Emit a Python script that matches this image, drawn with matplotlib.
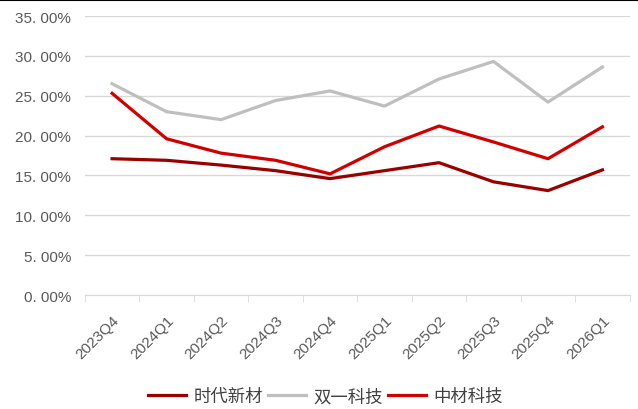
import matplotlib.pyplot as plt
import numpy as np
from matplotlib.lines import Line2D
from matplotlib.ticker import FuncFormatter

plt.rcParams['font.family'] = ['Liberation Sans', 'Noto Sans CJK SC', 'DejaVu Sans']

quarters = ['2023Q4', '2024Q1', '2024Q2', '2024Q3', '2024Q4',
            '2025Q1', '2025Q2', '2025Q3', '2025Q4', '2026Q1']
sdxc = [17.1, 16.9, 16.3, 15.6, 14.6, 15.6, 16.6, 14.2, 13.1, 15.7]   # 时代新材
syjk = [26.5, 23.0, 22.0, 24.4, 25.6, 23.7, 27.1, 29.3, 24.2, 28.6]   # 双一科技
zcjk = [25.3, 19.6, 17.8, 16.9, 15.2, 18.6, 21.2, 19.2, 17.1, 21.1]   # 中材科技

fig = plt.figure(figsize=(6.38, 4.10), dpi=100)
ax = fig.add_axes([0.133, 0.278, 0.854, 0.6805])

x = np.arange(len(quarters))
ax.plot(x, np.array(sdxc) / 100, color='#990000', lw=2.3, label='时代新材')
ax.plot(x, np.array(syjk) / 100, color='#BFBFBF', lw=2.3, label='双一科技')
ax.plot(x, np.array(zcjk) / 100, color='#D00000', lw=2.3, label='中材科技')

ax.set_xlim(-0.5, len(quarters) - 0.5)
ax.set_ylim(0, 0.35)
ax.set_yticks(np.arange(0, 0.351, 0.05))
ax.yaxis.set_major_formatter(FuncFormatter(lambda v, p: ('%.2f%%' % (v * 100)).replace('.', '. ')))
ax.grid(axis='y', color='#D9D9D9', lw=1)
ax.set_axisbelow(True)

ax.set_xticks(x)
ax.set_xticklabels(quarters, rotation=45, ha='right', rotation_mode='anchor')
ax.set_xticks(np.arange(-0.5, len(quarters), 1), minor=True)
ax.tick_params(axis='x', which='major', length=0, pad=13, labelsize=11, colors='#595959')
ax.tick_params(axis='x', which='minor', length=5, color='#D9D9D9')
ax.tick_params(axis='y', length=0, labelsize=11, colors='#595959', pad=10)

for s in ['top', 'right', 'left']:
    ax.spines[s].set_visible(False)
ax.spines['bottom'].set_color('#D9D9D9')

ax.legend(loc='center', bbox_to_anchor=(0.51, 0.032), bbox_transform=fig.transFigure,
          ncol=3, frameon=False, fontsize=12.5, handlelength=2.2, columnspacing=0.3,
          handletextpad=0.4, labelcolor='#404040')

fig.add_artist(Line2D([0, 1], [0.998, 0.998], color='black', lw=1.5))

fig.savefig('out.png', dpi=100)
